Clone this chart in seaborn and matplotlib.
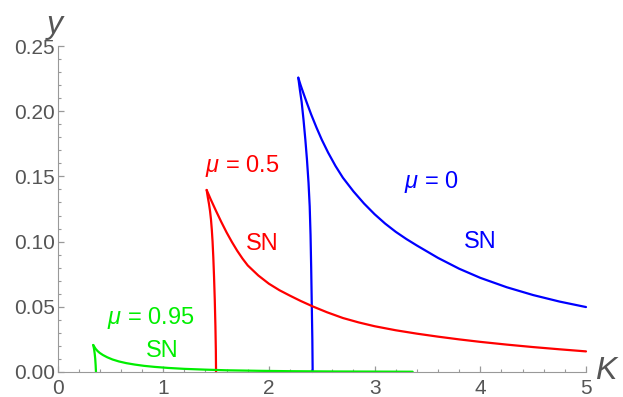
import matplotlib
matplotlib.use('Agg')
import matplotlib.pyplot as plt
import seaborn as sns
import pandas as pd
from matplotlib.ticker import MultipleLocator

# curve values (K, y)
blue_vert_k = [2.414, 2.411, 2.406, 2.400, 2.394, 2.386, 2.375, 2.360, 2.345, 2.328, 2.310, 2.293, 2.278]
blue_vert_y = [0.0, 0.025, 0.05, 0.08, 0.105, 0.127, 0.145, 0.163, 0.178, 0.193, 0.207, 0.2165, 0.2257]
blue_sn_k = [2.278, 2.30, 2.33, 2.36, 2.40, 2.45, 2.50, 2.56, 2.63, 2.70, 2.80, 2.90, 3.00,
             3.10, 3.20, 3.30, 3.40, 3.60, 3.80, 4.00, 4.25, 4.50, 4.75, 5.00]
blue_sn_y = [0.2257, 0.2200, 0.2130, 0.2062, 0.1975, 0.1875, 0.1782, 0.1683, 0.1580, 0.1490,
             0.1385, 0.1292, 0.1210, 0.1138, 0.1075, 0.1020, 0.0970, 0.0875, 0.0792, 0.0722,
             0.0650, 0.0590, 0.0540, 0.0498]

red_vert_k = [1.500, 1.498, 1.494, 1.488, 1.481, 1.474, 1.467, 1.460, 1.452, 1.443, 1.433, 1.422, 1.411]
red_vert_y = [0.0, 0.017, 0.035, 0.055, 0.073, 0.088, 0.100, 0.109, 0.117, 0.1235, 0.129, 0.134, 0.1396]
red_sn_k = [1.411, 1.45, 1.50, 1.55, 1.60, 1.65, 1.70, 1.75, 1.80, 1.90, 2.00, 2.10, 2.20, 2.30,
            2.42, 2.55, 2.70, 2.85, 3.00, 3.20, 3.40, 3.60, 3.80, 4.00, 4.25, 4.50, 4.75, 5.00]
red_sn_y = [0.1396, 0.1323, 0.1235, 0.1150, 0.1070, 0.0997, 0.0930, 0.0870, 0.0817, 0.0740,
            0.0677, 0.0627, 0.0585, 0.0545, 0.0501, 0.0458, 0.0414, 0.0380, 0.0351, 0.0320,
            0.0294, 0.0271, 0.0250, 0.0231, 0.0210, 0.0191, 0.0174, 0.0158]

green_vert_k = [0.364, 0.361, 0.357, 0.352, 0.346, 0.338]
green_vert_y = [0.0, 0.005, 0.010, 0.014, 0.0175, 0.0207]
green_sn_k = [0.338, 0.36, 0.38, 0.40, 0.43, 0.47, 0.52, 0.58, 0.65, 0.73, 0.82, 0.92, 1.05,
              1.2, 1.4, 1.6, 1.9, 2.2, 2.6, 3.0, 3.36]
green_sn_y = [0.0207, 0.0178, 0.0160, 0.0146, 0.0130, 0.0113, 0.0096, 0.0081, 0.0068, 0.0057,
              0.0047, 0.0039, 0.0031, 0.0024, 0.0018, 0.0013, 0.0009, 0.0006, 0.0004, 0.0003, 0.0002]

x_ticks = [0, 1, 2, 3, 4, 5]
y_ticks = [0.0, 0.05, 0.10, 0.15, 0.20, 0.25]
y_labels = ['0.00', '0.05', '0.10', '0.15', '0.20', '0.25']

sns.set_style('ticks')
plt.rcParams['font.family'] = ['Liberation Sans', 'DejaVu Sans']
plt.rcParams['mathtext.fontset'] = 'custom'
plt.rcParams['mathtext.it'] = 'Liberation Sans:italic'
plt.rcParams['mathtext.rm'] = 'Liberation Sans'

fig = plt.figure(figsize=(6.23, 3.97), dpi=100)
ax = fig.add_axes([0.0923, 0.063, 0.8483, 0.8211])

blue, red, green = '#0000ff', '#ff0000', '#00ee00'
branches = [
    (blue_vert_k, blue_vert_y, blue),
    (blue_sn_k, blue_sn_y, blue),
    (red_vert_k, red_vert_y, red),
    (red_sn_k, red_sn_y, red),
    (green_vert_k, green_vert_y, green),
    (green_sn_k, green_sn_y, green),
]
for k, y, c in branches:
    df = pd.DataFrame({'K': k, 'y': y})
    sns.lineplot(data=df, x='K', y='y', sort=False, color=c, linewidth=1.6, ax=ax, clip_on=False)

ax.set_xlim(0, 5)
ax.set_ylim(0, 0.25)
sns.despine(ax=ax)
gray = '#999999'
ax.spines['left'].set_color(gray)
ax.spines['bottom'].set_color(gray)
ax.set_xticks(x_ticks)
ax.set_yticks(y_ticks)
ax.set_yticklabels(y_labels)
ax.xaxis.set_minor_locator(MultipleLocator(0.2))
ax.yaxis.set_minor_locator(MultipleLocator(0.01))
ax.tick_params(which='major', direction='in', length=4, width=0.9, color=gray,
               labelcolor='#555555', labelsize=15, pad=3)
ax.tick_params(which='minor', direction='in', length=2.3, width=0.8, color=gray)
ax.tick_params(axis='y', which='major', pad=2)
ax.tick_params(axis='x', which='major', pad=5)

ax.set_xlabel('K', fontstyle='italic', fontsize=23, color='#555555', ha='center', va='center')
ax.xaxis.set_label_coords(1.038, 0.003)
ax.set_ylabel('y', fontstyle='italic', fontsize=23, color='#555555', rotation=0, ha='center', va='center')
ax.yaxis.set_label_coords(-0.005, 1.065)

fs = 17
ax.text(1.743, 0.1576, r'$\mu$ = 0.5', color=red, fontsize=fs, ha='center', va='center')
ax.text(1.94, 0.098, 'SN', color=red, fontsize=fs, ha='center', va='center')
ax.text(3.54, 0.1457, r'$\mu$ = 0', color=blue, fontsize=fs, ha='center', va='center')
ax.text(4.0, 0.0995, 'SN', color=blue, fontsize=fs, ha='center', va='center')
ax.text(0.883, 0.0414, r'$\mu$ = 0.95', color=green, fontsize=fs, ha='center', va='center')
ax.text(0.986, 0.0161, 'SN', color=green, fontsize=fs, ha='center', va='center')

plt.savefig('out.png', dpi=100)
